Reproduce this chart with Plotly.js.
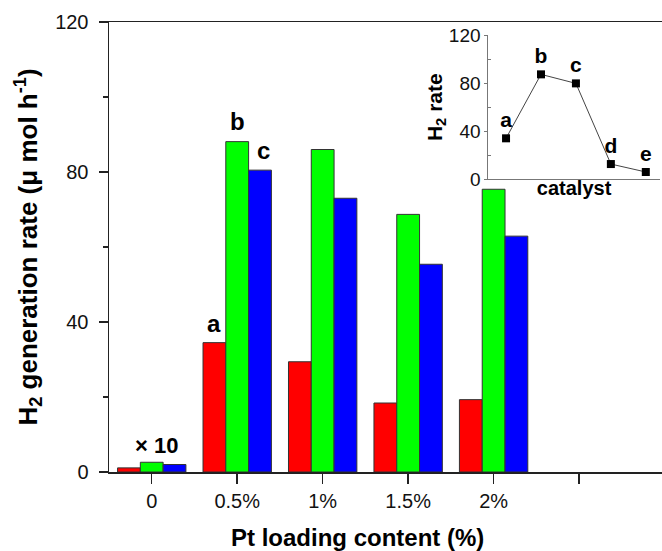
<!DOCTYPE html>
<html>
<head>
<meta charset="utf-8">
<script src="https://cdn.plot.ly/plotly-3.0.1.min.js"></script>
<style>html,body{margin:0;padding:0;background:#fff;}#chart{width:662px;height:551px;}</style>
</head>
<body>
<div id="chart"></div>
<script>
// Main chart data
const categories = ['0', '0.5%', '1%', '1.5%', '2%'];
const axisCategories = ['0', '0.5%', '1%', '1.5%', '2%', ' '];
const redValues = [1.1, 34.5, 29.4, 18.4, 19.3];
const greenValues = [2.6, 88.1, 86.0, 68.7, 75.4];
const blueValues = [2.0, 80.5, 73.0, 55.4, 62.9];

// Inset data
const insetCatalysts = ['a', 'b', 'c', 'd', 'e'];
const insetRates = [34.1, 87.3, 79.8, 12.7, 6.1];

const FONT = 'Liberation Sans, Arial, sans-serif';
const outline = {color: '#333', width: 1};

const traces = [
  {type: 'bar', name: 'red', x: categories, y: redValues, marker: {color: '#ff0000', line: outline}, xaxis: 'x', yaxis: 'y', hoverinfo: 'y'},
  {type: 'bar', name: 'green', x: categories, y: greenValues, marker: {color: '#00ff00', line: outline}, xaxis: 'x', yaxis: 'y', hoverinfo: 'y'},
  {type: 'bar', name: 'blue', x: categories, y: blueValues, marker: {color: '#0000ff', line: outline}, xaxis: 'x', yaxis: 'y', hoverinfo: 'y'},
  {type: 'scatter', mode: 'lines+markers+text', x: insetCatalysts, y: insetRates, text: insetCatalysts,
   textposition: 'top center', textfont: {family: FONT, size: 21, color: '#000', weight: 'bold'},
   line: {color: '#444', width: 1}, marker: {symbol: 'square', size: 8, color: '#000'},
   xaxis: 'x2', yaxis: 'y2', showlegend: false, cliponaxis: false}
];

const layout = {
  width: 662, height: 551,
  margin: {l: 109, r: 0, t: 22, b: 79},
  paper_bgcolor: '#fff', plot_bgcolor: '#fff',
  showlegend: false,
  barmode: 'group', bargap: 0.2, bargroupgap: 0,
  font: {family: FONT, color: '#111', size: 20},
  xaxis: {
    type: 'category', categoryorder: 'array', categoryarray: axisCategories,
    range: [-0.5, 5.97], domain: [0, 1],
    showline: true, linecolor: '#222', linewidth: 1.5, mirror: true,
    ticks: 'outside', ticklen: 10, tickwidth: 1.5, tickcolor: '#222',
    tickfont: {family: FONT, size: 20, color: '#111'},
    showgrid: false, zeroline: false, fixedrange: true
  },
  yaxis: {
    range: [0, 120], tickvals: [0, 40, 80, 120], domain: [0, 1],
    showline: true, linecolor: '#222', linewidth: 1.5,
    ticks: 'outside', ticklen: 9, tickwidth: 1.5, tickcolor: '#222',
    minor: {tickvals: [20, 60, 100], ticks: 'outside', ticklen: 5, tickwidth: 1.5, tickcolor: '#222'},
    tickfont: {family: FONT, size: 20, color: '#111'},
    ticklabelstandoff: 6,
    title: {text: 'H<sub>2</sub> generation rate (μ mol h<sup>-1</sup>)', font: {family: FONT, size: 26, color: '#000', weight: 'bold'}, standoff: 10},
    showgrid: false, zeroline: false, fixedrange: true
  },
  xaxis2: {
    anchor: 'y2', domain: [0.686, 0.996], type: 'category', range: [-0.506, 4.4],
    showline: true, linecolor: '#777', linewidth: 1,
    showticklabels: false, ticks: '', showgrid: false, zeroline: false,
    title: {text: 'catalyst', font: {family: FONT, size: 20, color: '#000', weight: 'bold'}, standoff: 1},
    fixedrange: true
  },
  yaxis2: {
    anchor: 'x2', domain: [0.6504, 0.971], range: [0, 120], tickvals: [0, 40, 80, 120],
    showline: true, linecolor: '#777', linewidth: 1,
    ticks: 'outside', ticklen: 3, tickcolor: '#777',
    minor: {tickvals: [20, 60, 100], ticks: 'inside', ticklen: 3, tickcolor: '#777'},
    tickfont: {family: FONT, size: 19, color: '#111'},
    title: {text: 'H<sub>2</sub> rate', font: {family: FONT, size: 21, color: '#000', weight: 'bold'}, standoff: 0},
    showgrid: false, zeroline: false, fixedrange: true
  },
  annotations: [
    {xref: 'x', yref: 'y', x: 0.7333, y: redValues[1], yanchor: 'middle', yshift: 19, text: 'a', showarrow: false,
     font: {family: FONT, size: 24, color: '#000', weight: 'bold'}},
    {xref: 'x', yref: 'y', x: 1, y: greenValues[1], yanchor: 'middle', yshift: 20, text: 'b', showarrow: false,
     font: {family: FONT, size: 24, color: '#000', weight: 'bold'}},
    {xref: 'x', yref: 'y', x: 1.2667, y: blueValues[1], xshift: 3, yanchor: 'middle', yshift: 20, text: 'c', showarrow: false,
     font: {family: FONT, size: 24, color: '#000', weight: 'bold'}},
    {xref: 'x', yref: 'y', x: 0, y: greenValues[0], xshift: 5, yanchor: 'middle', yshift: 17, text: '× 10', showarrow: false,
     font: {family: FONT, size: 22, color: '#000', weight: 'bold'}},
    {xref: 'paper', yref: 'paper', x: (357 - 109) / 553, y: (472 - 537) / 450, xanchor: 'center', yanchor: 'middle',
     text: 'Pt loading content (%)', showarrow: false, font: {family: FONT, size: 24, color: '#000', weight: 'bold'}}
  ]
};

Plotly.newPlot('chart', traces, layout, {displayModeBar: false, staticPlot: true});
</script>
</body>
</html>
